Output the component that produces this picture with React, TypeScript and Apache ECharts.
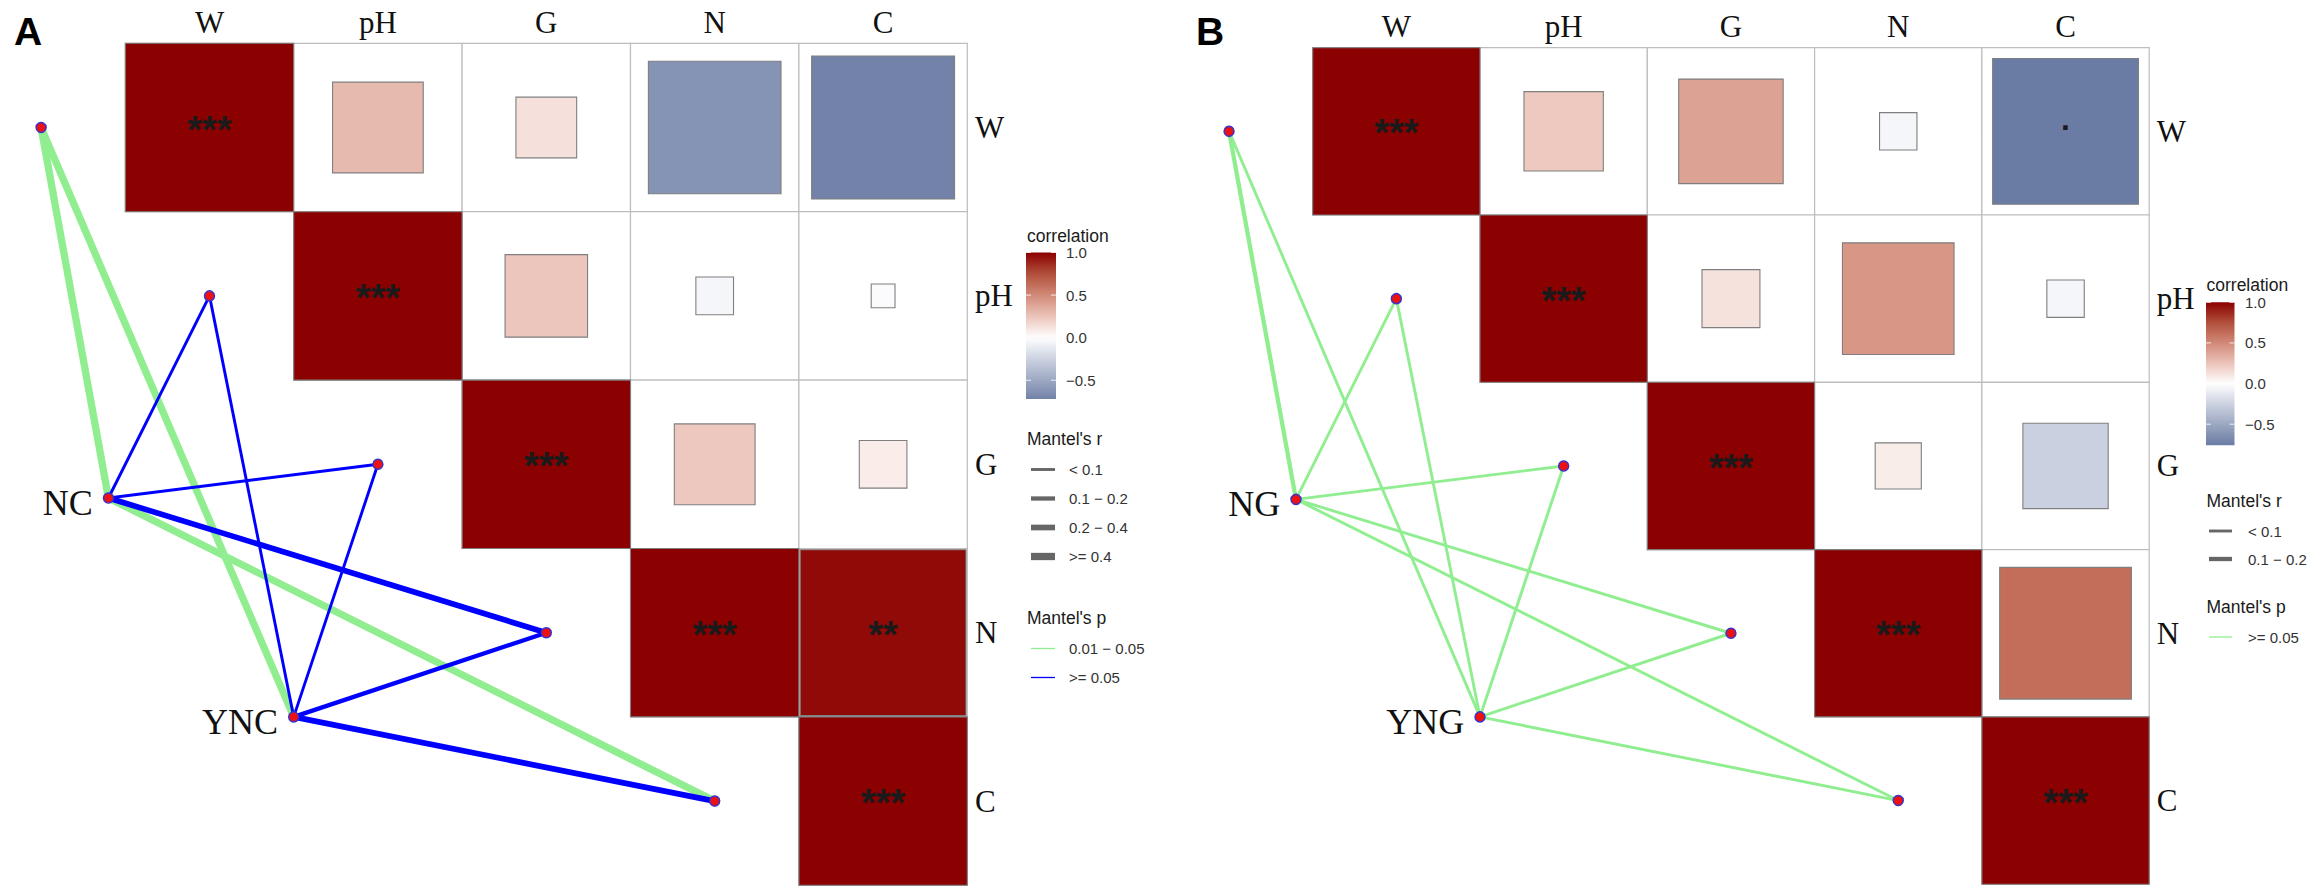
import React, { useEffect, useRef } from 'react';
import * as echarts from 'echarts';

// ---------------- DATA ----------------
const envVars = ['W', 'pH', 'G', 'N', 'C'];

// Panel A: correlations among soil variables
const corrA_W = [1.0, 0.29, 0.13, -0.62, -0.72];
const corrA_pH = [0.29, 1.0, 0.24, -0.05, -0.02];
const corrA_G = [0.13, 0.24, 1.0, 0.23, 0.08];
const corrA_N = [-0.62, -0.05, 0.23, 1.0, 0.97];
const corrA_C = [-0.72, -0.02, 0.08, 0.97, 1.0];
const signifA_W = ['***', '', '', '', ''];
const signifA_pH = ['', '***', '', '', ''];
const signifA_G = ['', '', '***', '', ''];
const signifA_N = ['', '', '', '***', '**'];
const signifA_C = ['', '', '', '', '***'];

// Panel B
const corrB_W = [1.0, 0.225, 0.39, -0.05, -0.76];
const corrB_pH = [0.225, 1.0, 0.12, 0.445, -0.05];
const corrB_G = [0.39, 0.12, 1.0, 0.076, -0.26];
const corrB_N = [-0.05, 0.445, 0.076, 1.0, 0.62];
const corrB_C = [-0.76, -0.05, -0.26, 0.62, 1.0];
const signifB_W = ['***', '', '', '', '.'];
const signifB_pH = ['', '***', '', '', ''];
const signifB_G = ['', '', '***', '', ''];
const signifB_N = ['', '', '', '***', ''];
const signifB_C = ['', '', '', '', '***'];

// Mantel tests (species -> env variables W, pH, G, N, C)
const speciesA = ['NC', 'YNC'];
const mantelR_NC = ['>= 0.4', '< 0.1', '< 0.1', '0.2 - 0.4', '>= 0.4'];
const mantelP_NC = ['0.01 - 0.05', '>= 0.05', '>= 0.05', '>= 0.05', '0.01 - 0.05'];
const mantelR_YNC = ['>= 0.4', '< 0.1', '< 0.1', '0.1 - 0.2', '0.2 - 0.4'];
const mantelP_YNC = ['0.01 - 0.05', '>= 0.05', '>= 0.05', '>= 0.05', '>= 0.05'];

const speciesB = ['NG', 'YNG'];
const mantelR_NG = ['0.1 - 0.2', '< 0.1', '< 0.1', '< 0.1', '< 0.1'];
const mantelP_NG = ['>= 0.05', '>= 0.05', '>= 0.05', '>= 0.05', '>= 0.05'];
const mantelR_YNG = ['< 0.1', '< 0.1', '< 0.1', '< 0.1', '< 0.1'];
const mantelP_YNG = ['>= 0.05', '>= 0.05', '>= 0.05', '>= 0.05', '>= 0.05'];

const rLevelsA = ['< 0.1', '0.1 - 0.2', '0.2 - 0.4', '>= 0.4'];
const rLevelsB = ['< 0.1', '0.1 - 0.2'];
const pLevelsA = ['0.01 - 0.05', '>= 0.05'];
const pLevelsB = ['>= 0.05'];
const colorTicks = [1.0, 0.5, 0.0, -0.5];

// ---------------- STYLE / LAYOUT ----------------
const FILL_MIN = -1;
const FILL_MAX = 1;
const FILL_STOPS = ['#44588E', '#6C7DA5', '#9CA8C2', '#CCD2E0', '#FFFFFF', '#EBC3B9', '#D18978', '#B1503B', '#8B0000'];
const R_WIDTHS: Record<string, number> = { '< 0.1': 2.9, '0.1 - 0.2': 4.3, '0.2 - 0.4': 5.7, '>= 0.4': 7.3 };
const P_COLORS_A = ['#90EE90', '#0000FF'];
const P_COLORS_B = ['#90EE90'];
const SPECIES_ANCHORS = [[-0.1, 2.7], [1.0, 4.0]];

const SANS = 'Liberation Sans, Arial, Helvetica, sans-serif';
const SERIF = 'Liberation Serif, Times New Roman, serif';

const PANELS = [
  {
    letter: 'A', letterX: 14, cs: 168.4, L: 125.3, T: 43.3,
    corr: [corrA_W, corrA_pH, corrA_G, corrA_N, corrA_C],
    signif: [signifA_W, signifA_pH, signifA_G, signifA_N, signifA_C],
    species: speciesA,
    mR: [mantelR_NC, mantelR_YNC], mP: [mantelP_NC, mantelP_YNC],
    rLevels: rLevelsA, pLevels: pLevelsA, pColors: P_COLORS_A,
    lg: { x: 1027, titleY: 236, barX: 1026, barW: 30, barTop: 252.5, barH: 146.5, tickX: 1066,
      rTitleY: 438.5, pTitleY: 617.5, firstGap: 31, step: 29, swX: 1031, swW: 24, textX: 1069 },
  },
  {
    letter: 'B', letterX: 1196, cs: 167.3, L: 1312.7, T: 47.7,
    corr: [corrB_W, corrB_pH, corrB_G, corrB_N, corrB_C],
    signif: [signifB_W, signifB_pH, signifB_G, signifB_N, signifB_C],
    species: speciesB,
    mR: [mantelR_NG, mantelR_YNG], mP: [mantelP_NG, mantelP_YNG],
    rLevels: rLevelsB, pLevels: pLevelsB, pColors: P_COLORS_B,
    lg: { x: 2206.5, titleY: 285, barX: 2206, barW: 28.5, barTop: 302.3, barH: 143, tickX: 2245,
      rTitleY: 501, pTitleY: 607, firstGap: 30, step: 28, swX: 2209, swW: 23, textX: 2248 },
  },
];

function hexToRgb(h: string) {
  const n = parseInt(h.slice(1), 16);
  return [(n >> 16) & 255, (n >> 8) & 255, n & 255];
}
function colorAt(v: number) {
  const t = ((v - FILL_MIN) / (FILL_MAX - FILL_MIN)) * (FILL_STOPS.length - 1);
  const i = Math.max(0, Math.min(FILL_STOPS.length - 2, Math.floor(t)));
  const f = t - i;
  const a = hexToRgb(FILL_STOPS[i]);
  const b = hexToRgb(FILL_STOPS[i + 1]);
  const c = a.map((x, k) => Math.round(x + (b[k] - x) * f));
  return `rgb(${c[0]},${c[1]},${c[2]})`;
}
const dispLevel = (s: string) => s.replace(' - ', ' \u2212 ');
const dispTick = (v: number) => v.toFixed(1).replace('-', '\u2212');

function buildOption() {
  const grid: any[] = [];
  const xAxis: any[] = [];
  const yAxis: any[] = [];
  const series: any[] = [];
  const graphic: any[] = [];
  const squareSeries: number[] = [];

  PANELS.forEach((p, pi) => {
    grid.push({ left: p.L - 0.7 * p.cs, top: p.T - 0.25 * p.cs, width: 6.4 * p.cs, height: 5.25 * p.cs });
    xAxis.push({ type: 'value', gridIndex: pi, min: -0.7, max: 5.7, show: false });
    yAxis.push({ type: 'value', gridIndex: pi, min: -0.25, max: 5, inverse: true, show: false });

    const cells: number[][] = [];
    const marks: string[] = [];
    for (let i = 0; i < envVars.length; i++) {
      for (let j = i; j < envVars.length; j++) {
        cells.push([j + 0.5, i + 0.5, p.corr[i][j]]);
        marks.push(p.signif[i][j]);
      }
    }

    // cell backgrounds
    series.push({
      type: 'custom', xAxisIndex: pi, yAxisIndex: pi, clip: false, z: 1,
      data: cells.map((c) => [c[0], c[1]]),
      renderItem: (params: any, api: any) => {
        const c = api.coord([api.value(0), api.value(1)]);
        const s = api.size([1, 1]);
        const w = Math.abs(s[0]), h = Math.abs(s[1]);
        return {
          type: 'rect',
          shape: { x: c[0] - w / 2, y: c[1] - h / 2, width: w, height: h },
          style: { fill: '#ffffff', stroke: '#BDBDBD', lineWidth: 1.2 },
        };
      },
    });

    // squares
    squareSeries.push(series.length);
    series.push({
      type: 'custom', xAxisIndex: pi, yAxisIndex: pi, clip: false, z: 2,
      data: cells,
      renderItem: (params: any, api: any) => {
        const c = api.coord([api.value(0), api.value(1)]);
        const s = api.size([1, 1]);
        const k = Math.sqrt(Math.abs(api.value(2)));
        const w = Math.abs(s[0]) * k, h = Math.abs(s[1]) * k;
        const mark = marks[params.dataIndex];
        const children: any[] = [{
          type: 'rect',
          shape: { x: c[0] - w / 2, y: c[1] - h / 2, width: w, height: h },
          style: { fill: api.visual('color'), stroke: '#7F7F7F', lineWidth: 1.1 },
        }];
        if (mark) {
          const dot = mark === '.';
          children.push({
            type: 'text', x: c[0], y: c[1] + (dot ? -12 : 2),
            style: {
              text: mark, fontSize: dot ? 32 : 38, fontWeight: 'bold', fontFamily: SANS,
              fill: '#1a1a1a', align: 'center', verticalAlign: 'middle',
            },
          });
        }
        return { type: 'group', children };
      },
    });

    // Mantel links
    const links: any[] = [];
    p.pLevels.forEach((_, pl) => {
      p.species.forEach((sp, si) => {
        envVars.forEach((ev, k) => {
          if (p.pLevels.indexOf(p.mP[si][k]) !== pl) return;
          links.push({
            coords: [SPECIES_ANCHORS[si], [k - 0.5, k + 0.5]],
            lineStyle: { width: R_WIDTHS[p.mR[si][k]], color: p.pColors[pl], opacity: 1 },
          });
        });
      });
    });
    series.push({
      type: 'lines', coordinateSystem: 'cartesian2d', xAxisIndex: pi, yAxisIndex: pi, z: 3,
      polyline: false, lineStyle: { opacity: 1, curveness: 0 }, data: links, silent: true,
    });

    // env nodes
    series.push({
      type: 'scatter', xAxisIndex: pi, yAxisIndex: pi, z: 4, clip: false,
      symbolSize: 10,
      itemStyle: { color: '#EE1111', borderColor: '#3B32C8', borderWidth: 1.5, opacity: 1 },
      data: envVars.map((_, k) => [k - 0.5, k + 0.5]),
    });
    // species nodes
    series.push({
      type: 'scatter', xAxisIndex: pi, yAxisIndex: pi, z: 4, clip: false,
      symbolSize: 10,
      itemStyle: { color: '#EE1111', borderColor: '#3B32C8', borderWidth: 1.5, opacity: 1 },
      label: {
        show: true, position: 'left', distance: 10, offset: [0, 5],
        formatter: (d: any) => d.name, fontSize: 36, fontFamily: SERIF, color: '#111',
      },
      data: p.species.map((sp, si) => ({ name: sp, value: SPECIES_ANCHORS[si] })),
    });

    // axis-like variable labels
    const lab: any[] = [];
    envVars.forEach((ev, k) => {
      lab.push({ value: [k + 0.5, -0.125], name: ev, align: 'center' });
      lab.push({ value: [5.045, k + 0.5], name: ev, align: 'left' });
    });
    series.push({
      type: 'custom', xAxisIndex: pi, yAxisIndex: pi, clip: false, z: 5,
      data: lab.map((d) => d.value),
      renderItem: (params: any, api: any) => {
        const c = api.coord([api.value(0), api.value(1)]);
        const d = lab[params.dataIndex];
        return {
          type: 'text', x: c[0], y: c[1],
          style: { text: d.name, fontSize: 31, fontFamily: SERIF, fill: '#111', align: d.align, verticalAlign: 'middle' },
        };
      },
    });

    // panel letter
    graphic.push({
      type: 'text', x: p.letterX, y: 31,
      style: { text: p.letter, fontSize: 39, fontWeight: 'bold', fontFamily: SANS, fill: '#000', verticalAlign: 'middle' },
    });

    // ---- legend ----
    const lg = p.lg;
    let vmin = 1;
    p.corr.forEach((row) => row.forEach((v) => { if (v < vmin) vmin = v; }));
    const ppu = lg.barH / (1 - vmin);
    graphic.push({
      type: 'text', x: lg.x, y: lg.titleY,
      style: { text: 'correlation', fontSize: 17.5, fontFamily: SANS, fill: '#1a1a1a', verticalAlign: 'middle' },
    });
    const stops: any[] = [];
    for (let s = 0; s <= 30; s++) {
      const v = 1 - ((1 - vmin) * s) / 30;
      stops.push({ offset: s / 30, color: colorAt(v) });
    }
    graphic.push({
      type: 'rect', shape: { x: lg.barX, y: lg.barTop, width: lg.barW, height: lg.barH },
      style: { fill: new echarts.graphic.LinearGradient(0, 0, 0, 1, stops) },
    });
    colorTicks.forEach((v) => {
      const y = lg.barTop + (1 - v) * ppu;
      graphic.push({ type: 'line', shape: { x1: lg.barX, y1: y, x2: lg.barX + 5, y2: y }, style: { stroke: '#ffffff', lineWidth: 1, opacity: 0.8 } });
      graphic.push({ type: 'line', shape: { x1: lg.barX + lg.barW - 5, y1: y, x2: lg.barX + lg.barW, y2: y }, style: { stroke: '#ffffff', lineWidth: 1, opacity: 0.8 } });
      graphic.push({
        type: 'text', x: lg.tickX, y,
        style: { text: dispTick(v), fontSize: 15, fontFamily: SANS, fill: '#333', verticalAlign: 'middle' },
      });
    });

    graphic.push({
      type: 'text', x: lg.x, y: lg.rTitleY,
      style: { text: "Mantel's r", fontSize: 17.5, fontFamily: SANS, fill: '#1a1a1a', verticalAlign: 'middle' },
    });
    p.rLevels.forEach((lv, k) => {
      const y = lg.rTitleY + lg.firstGap + k * lg.step;
      graphic.push({ type: 'line', shape: { x1: lg.swX, y1: y, x2: lg.swX + lg.swW, y2: y }, style: { stroke: '#666666', lineWidth: R_WIDTHS[lv] } });
      graphic.push({ type: 'text', x: lg.textX, y, style: { text: dispLevel(lv), fontSize: 15, fontFamily: SANS, fill: '#333', verticalAlign: 'middle' } });
    });
    graphic.push({
      type: 'text', x: lg.x, y: lg.pTitleY,
      style: { text: "Mantel's p", fontSize: 17.5, fontFamily: SANS, fill: '#1a1a1a', verticalAlign: 'middle' },
    });
    p.pLevels.forEach((lv, k) => {
      const y = lg.pTitleY + lg.firstGap + k * lg.step;
      graphic.push({ type: 'line', shape: { x1: lg.swX, y1: y, x2: lg.swX + lg.swW, y2: y }, style: { stroke: p.pColors[k], lineWidth: 1.3 } });
      graphic.push({ type: 'text', x: lg.textX, y, style: { text: dispLevel(lv), fontSize: 15, fontFamily: SANS, fill: '#333', verticalAlign: 'middle' } });
    });
  });

  return {
    animation: false,
    backgroundColor: '#ffffff',
    grid, xAxis, yAxis, series, graphic,
    visualMap: [{
      type: 'continuous', show: false, min: FILL_MIN, max: FILL_MAX, dimension: 2,
      seriesIndex: squareSeries, inRange: { color: FILL_STOPS },
    }],
  };
}

export default function App() {
  const ref = useRef<HTMLDivElement>(null);
  useEffect(() => {
    if (!ref.current) return;
    const chart = echarts.init(ref.current, undefined, { renderer: 'svg', width: 2308, height: 887 });
    chart.setOption(buildOption() as any);
    return () => chart.dispose();
  }, []);
  return (
    <div
      ref={ref}
      style={{ position: 'fixed', left: 0, top: 0, width: 2308, height: 887, background: '#ffffff' }}
    />
  );
}
